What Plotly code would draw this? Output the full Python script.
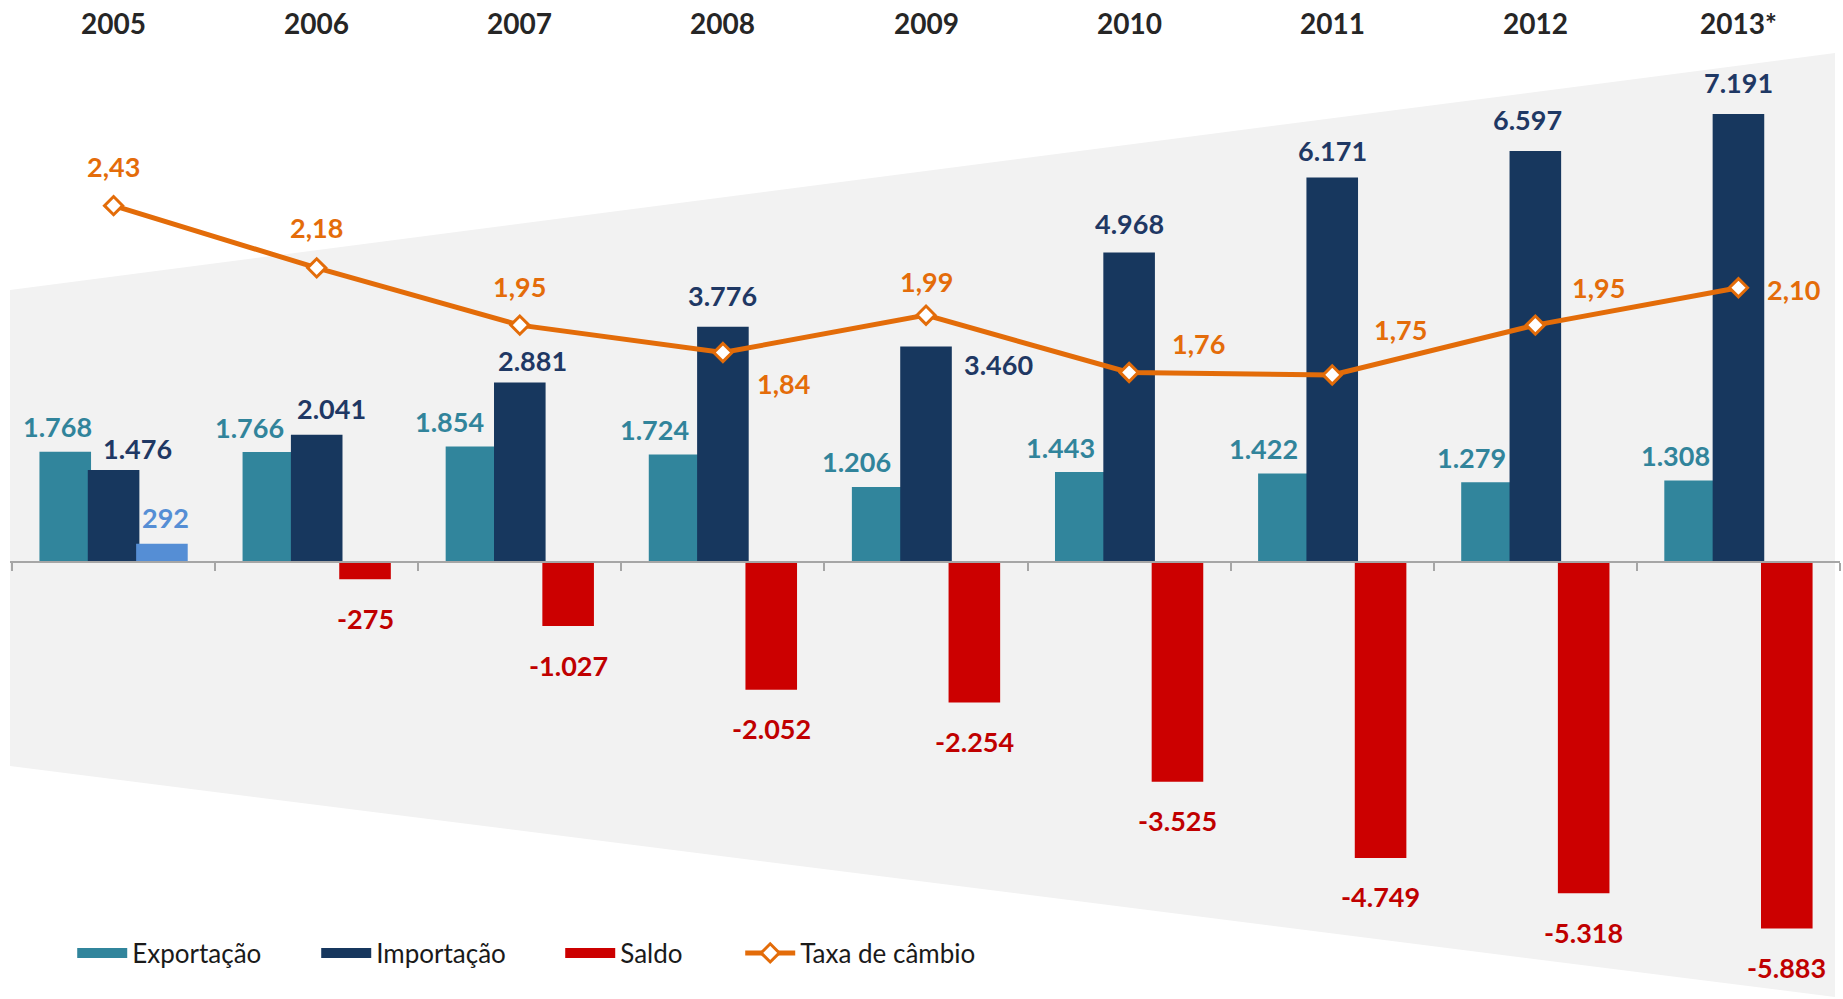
import plotly.graph_objects as go

# ---------------- data ----------------
years = ["2005", "2006", "2007", "2008", "2009", "2010", "2011", "2012", "2013*"]
exportacao = [1768, 1766, 1854, 1724, 1206, 1443, 1422, 1279, 1308]
importacao = [1476, 2041, 2881, 3776, 3460, 4968, 6171, 6597, 7191]
saldo = [292, -275, -1027, -2052, -2254, -3525, -4749, -5318, -5883]
taxa_cambio = [2.43, 2.18, 1.95, 1.84, 1.99, 1.76, 1.75, 1.95, 2.10]

# ---------------- style ----------------
W, H = 1843, 999
FONT = "Lato"
C_EXP = "#31859C"
C_IMP = "#17375E"
C_SAL = "#CC0000"
C_SAL_POS = "#558ED5"
C_LINE = "#E36C09"
C_EXP_T = "#31849B"
C_IMP_T = "#1F3864"
C_SAL_T = "#C00000"
C_LINE_T = "#E46C0A"
LBL = 27

BW = 0.254
OFF = 0.238
Y_RANGE = [-7014, 9021]
Y2_RANGE = [-0.757, 3.256]
X_RANGE = [-0.51, 8.5]

# label offsets in px (dx, dy up)
exp_dx = [-8, -19, -22, -20, -21, -20, -20, -16, -15]
exp_dy = 25
imp_off = [(24, 22), (15, 26), (13, 22), (0, 31), (72, -18), (0, 29), (0, 27), (-8, 32), (0, 32)]
line_off = [(0, 39), (0, 40), (0, 39), (61, -31), (0, 34), (69, 29), (68, 45), (63, 38), (55, -2)]
legend_w = {"exp": 179, "imp": 179, "sal": 115, "tx": 180}

fmt_int = lambda v: f"{v:,}".replace(",", ".")
fmt_dec = lambda v: f"{v:.2f}".replace(".", ",")

xs = list(range(len(years)))

fig = go.Figure()

fig.add_trace(go.Bar(
    x=xs, y=exportacao, name="Exportação", width=BW, offset=-OFF - BW / 2,
    marker=dict(color=C_EXP, line=dict(width=0)), showlegend=False, legendgroup="exp",
))
fig.add_trace(go.Bar(
    x=xs, y=importacao, name="Importação", width=BW, offset=-BW / 2,
    marker=dict(color=C_IMP, line=dict(width=0)), showlegend=False, legendgroup="imp",
))
fig.add_trace(go.Bar(
    x=xs, y=saldo, name="Saldo", width=BW, offset=OFF - BW / 2,
    marker=dict(color=[C_SAL_POS if v > 0 else C_SAL for v in saldo], line=dict(width=0)),
    showlegend=False, legendgroup="sal",
))
fig.add_trace(go.Scatter(
    x=xs, y=taxa_cambio, name="Taxa de câmbio", yaxis="y2", mode="lines+markers",
    line=dict(color=C_LINE, width=5),
    marker=dict(symbol="diamond", size=14, color="white", line=dict(color=C_LINE, width=3)),
    legendrank=4, legendwidth=legend_w["tx"],
))

# legend entries for the bar series (wide swatches like the original)
for name, col, grp, rank in [("Exportação", C_EXP, "exp", 1), ("Importação", C_IMP, "imp", 2),
                             ("Saldo", C_SAL, "sal", 3)]:
    fig.add_trace(go.Scatter(x=[None], y=[None], mode="lines", name=name, legendgroup=grp,
                             line=dict(color=col, width=12), legendrank=rank,
                             legendwidth=legend_w[grp], hoverinfo="skip"))

ann = []
for i, yr in enumerate(years):
    ann.append(dict(x=i, y=1 - 23.5 / H, xref="x", yref="paper", text=f"<b>{yr}</b>",
                    showarrow=False, font=dict(family=FONT, size=28, color="#262626"),
                    xanchor="center", yanchor="middle"))
for i, v in enumerate(exportacao):
    ann.append(dict(x=i - OFF, y=v, xref="x", yref="y", text=f"<b>{fmt_int(v)}</b>",
                    showarrow=False, xshift=exp_dx[i], yshift=exp_dy,
                    font=dict(family=FONT, size=LBL, color=C_EXP_T), xanchor="center", yanchor="middle"))
for i, v in enumerate(importacao):
    dx, dy = imp_off[i]
    ann.append(dict(x=i, y=v, xref="x", yref="y", text=f"<b>{fmt_int(v)}</b>",
                    showarrow=False, xshift=dx, yshift=dy,
                    font=dict(family=FONT, size=LBL, color=C_IMP_T), xanchor="center", yanchor="middle"))
for i, v in enumerate(saldo):
    pos = v > 0
    ann.append(dict(x=i + OFF, y=v, xref="x", yref="y", text=f"<b>{fmt_int(v)}</b>",
                    showarrow=False, xshift=4 if pos else 0, yshift=26 if pos else -39,
                    font=dict(family=FONT, size=LBL, color=C_SAL_POS if pos else C_SAL_T),
                    xanchor="center", yanchor="middle"))
for i, v in enumerate(taxa_cambio):
    dx, dy = line_off[i]
    ann.append(dict(x=i, y=v, xref="x", yref="y2", text=f"<b>{fmt_dec(v)}</b>",
                    showarrow=False, xshift=dx, yshift=dy,
                    font=dict(family=FONT, size=LBL, color=C_LINE_T), xanchor="center", yanchor="middle"))

L, R = 10, 3
pw = W - L - R
def px(xp):
    return (xp - L) / pw
def py(yp):
    return 1 - yp / H
path = (f"M {px(10)},{py(290)} L {px(1835)},{py(53)} L {px(1835)},{py(997)} "
        f"L {px(10)},{py(766)} Z")

zero_pos = (0 - Y_RANGE[0]) / (Y_RANGE[1] - Y_RANGE[0])

fig.update_layout(
    width=W, height=H,
    margin=dict(l=L, r=R, t=0, b=0, pad=0),
    paper_bgcolor="white", plot_bgcolor="rgba(0,0,0,0)",
    barmode="overlay",
    font=dict(family=FONT, color="#262626"),
    showlegend=True,
    legend=dict(orientation="h", x=0.034, xanchor="left", y=1 - 953 / H, yanchor="middle",
                font=dict(family=FONT, size=26, color="#1a1a1a"), bgcolor="rgba(0,0,0,0)",
                traceorder="normal", itemwidth=50),
    xaxis=dict(range=X_RANGE, showgrid=False, zeroline=False, anchor="free", position=zero_pos,
               showline=True, linecolor="#A6A6A6", linewidth=1.5,
               tickmode="array", tickvals=[i - 0.5 for i in range(len(years) + 1)],
               ticks="outside", ticklen=8, tickcolor="#A6A6A6", tickwidth=1.5,
               showticklabels=False, fixedrange=True),
    yaxis=dict(range=Y_RANGE, visible=False, showgrid=False, zeroline=False, fixedrange=True),
    yaxis2=dict(range=Y2_RANGE, overlaying="y", visible=False, showgrid=False,
                zeroline=False, fixedrange=True),
    annotations=ann,
    shapes=[dict(type="path", path=path, xref="paper", yref="paper",
                 fillcolor="#F2F2F2", line=dict(width=0), layer="below")],
)

fig.write_html("out.html", config={"displayModeBar": False},
               post_script="document.body.style.margin='0px';document.body.style.overflow='hidden';")
